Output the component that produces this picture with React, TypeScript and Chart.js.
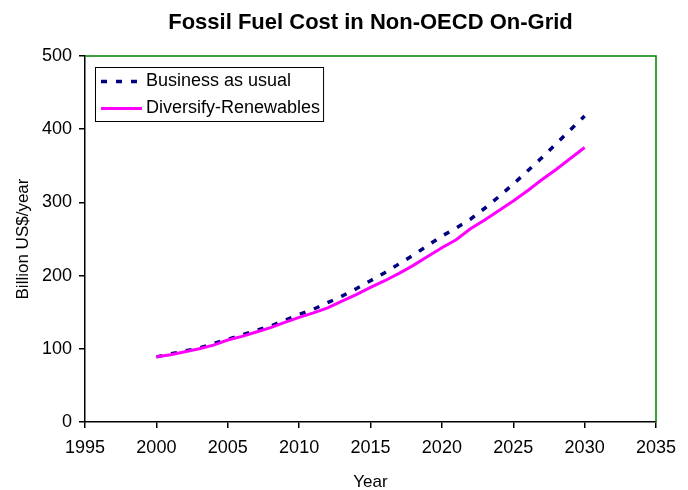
import React, { useEffect, useRef } from "react";
import { Chart, registerables } from "chart.js";

Chart.register(...registerables);

const chartTitle = "Fossil Fuel Cost in Non-OECD On-Grid";
const xAxisTitle = "Year";
const yAxisTitle = "Billion US$/year";
const seriesNames = ["Business as usual", "Diversify-Renewables"];

const years = [
  2000, 2001, 2002, 2003, 2004, 2005, 2006, 2007, 2008, 2009, 2010, 2011, 2012,
  2013, 2014, 2015, 2016, 2017, 2018, 2019, 2020, 2021, 2022, 2023, 2024, 2025,
  2026, 2027, 2028, 2029, 2030,
];
const businessAsUsual = [
  89, 93, 97, 101, 107, 113, 119, 125, 131, 139, 147, 154, 163, 172, 182, 193,
  204, 216, 228, 241, 254, 265, 277, 292, 308, 325, 343, 361, 380, 399, 418,
];
const diversifyRenewables = [
  89, 92, 96, 100, 105, 112, 117, 123, 129, 136, 143, 149, 156, 165, 174, 184,
  193, 203, 214, 226, 238, 249, 264, 276, 289, 302, 316, 331, 345, 360, 375,
];

const xMin = 1995;
const xMax = 2035;
const xStep = 5;
const yMin = 0;
const yMax = 500;
const yStep = 100;

const FONT = "'Liberation Sans', Arial, sans-serif";

const frameAndTitle = {
  id: "frameAndTitle",
  afterDraw(chart: any) {
    const { ctx, chartArea } = chart;
    const { left, right, top, bottom } = chartArea;
    ctx.save();
    ctx.strokeStyle = "#008000";
    ctx.lineWidth = 1.5;
    ctx.beginPath();
    ctx.moveTo(left, top);
    ctx.lineTo(right, top);
    ctx.lineTo(right, bottom);
    ctx.stroke();

    ctx.fillStyle = "#000";
    ctx.font = `bold 22px ${FONT}`;
    ctx.textAlign = "center";
    ctx.textBaseline = "middle";
    ctx.fillText(chartTitle, (left + right) / 2, 23);

    const ds = chart.data.datasets;
    ctx.font = `18px ${FONT}`;
    let maxW = 0;
    ds.forEach((d: any) => {
      maxW = Math.max(maxW, ctx.measureText(d.label).width);
    });
    const bx = left + 10;
    const by = top + 11;
    const rowH = 27;
    const bw = 51 + maxW + 3;
    const bh = rowH * ds.length;
    ctx.fillStyle = "#fff";
    ctx.fillRect(bx, by, bw, bh);
    ctx.strokeStyle = "#000";
    ctx.lineWidth = 1;
    ctx.strokeRect(bx + 0.5, by + 0.5, bw, bh);
    ds.forEach((d: any, i: number) => {
      const cy = by + rowH * i + rowH / 2 + 1;
      ctx.save();
      ctx.strokeStyle = d.borderColor;
      ctx.lineWidth = d.borderWidth;
      ctx.setLineDash(d.borderDash || []);
      ctx.beginPath();
      ctx.moveTo(bx + 6, cy);
      ctx.lineTo(bx + 47, cy);
      ctx.stroke();
      ctx.restore();
      ctx.fillStyle = "#000";
      ctx.textAlign = "left";
      ctx.textBaseline = "middle";
      ctx.fillText(d.label, bx + 51, cy);
    });
    ctx.restore();
  },
};

export default function App() {
  const ref = useRef<HTMLCanvasElement | null>(null);
  useEffect(() => {
    if (!ref.current) return;
    const chart = new Chart(ref.current, {
      type: "line",
      data: {
        datasets: [
          {
            label: seriesNames[0],
            data: years.map((y, i) => ({ x: y, y: businessAsUsual[i] })),
            borderColor: "#000080",
            backgroundColor: "#000080",
            borderWidth: 3.5,
            borderDash: [6, 9],
            pointRadius: 0,
            tension: 0,
            order: 1,
          },
          {
            label: seriesNames[1],
            data: years.map((y, i) => ({ x: y, y: diversifyRenewables[i] })),
            borderColor: "#FF00FF",
            backgroundColor: "#FF00FF",
            borderWidth: 3,
            pointRadius: 0,
            tension: 0,
            order: 0,
          },
        ],
      },
      options: {
        animation: false,
        responsive: false,
        devicePixelRatio: 1,
        layout: { padding: { top: 56, right: 32, left: 0, bottom: 0 } },
        plugins: {
          legend: { display: false },
          title: { display: false },
          tooltip: { enabled: false },
        },
        scales: {
          x: {
            type: "linear",
            min: xMin,
            max: xMax,
            grid: {
              drawOnChartArea: false,
              drawTicks: true,
              tickLength: 6,
              color: "#000",
              lineWidth: 1.5,
            },
            border: { color: "#000", width: 1.5 },
            ticks: {
              stepSize: xStep,
              color: "#000",
              font: { size: 18, family: FONT },
              padding: 9,
              maxRotation: 0,
              callback: (v: any) => String(v),
            },
            title: {
              display: true,
              text: xAxisTitle,
              color: "#000",
              font: { size: 17, family: FONT, lineHeight: 1 },
              padding: { top: 0, bottom: -1 },
            },
            afterFit: (s: any) => {
              s.height = 68;
            },
          },
          y: {
            min: yMin,
            max: yMax,
            grid: {
              drawOnChartArea: false,
              drawTicks: true,
              tickLength: 6,
              color: "#000",
              lineWidth: 1.5,
            },
            border: { color: "#000", width: 1.5 },
            ticks: {
              stepSize: yStep,
              color: "#000",
              font: { size: 18, family: FONT },
              padding: 7,
              callback: (v: any) => String(v),
            },
            title: {
              display: true,
              text: yAxisTitle,
              color: "#000",
              font: { size: 17, family: FONT },
              padding: { top: 13, bottom: 0 },
            },
            afterFit: (s: any) => {
              s.width = 85;
            },
          },
        },
      },
      plugins: [frameAndTitle],
    });
    return () => chart.destroy();
  }, []);
  return (
    <div style={{ position: "absolute", left: 0, top: 0, width: 688, height: 490, background: "#fff" }}>
      <canvas ref={ref} width={688} height={490} style={{ width: 688, height: 490 }} />
    </div>
  );
}
